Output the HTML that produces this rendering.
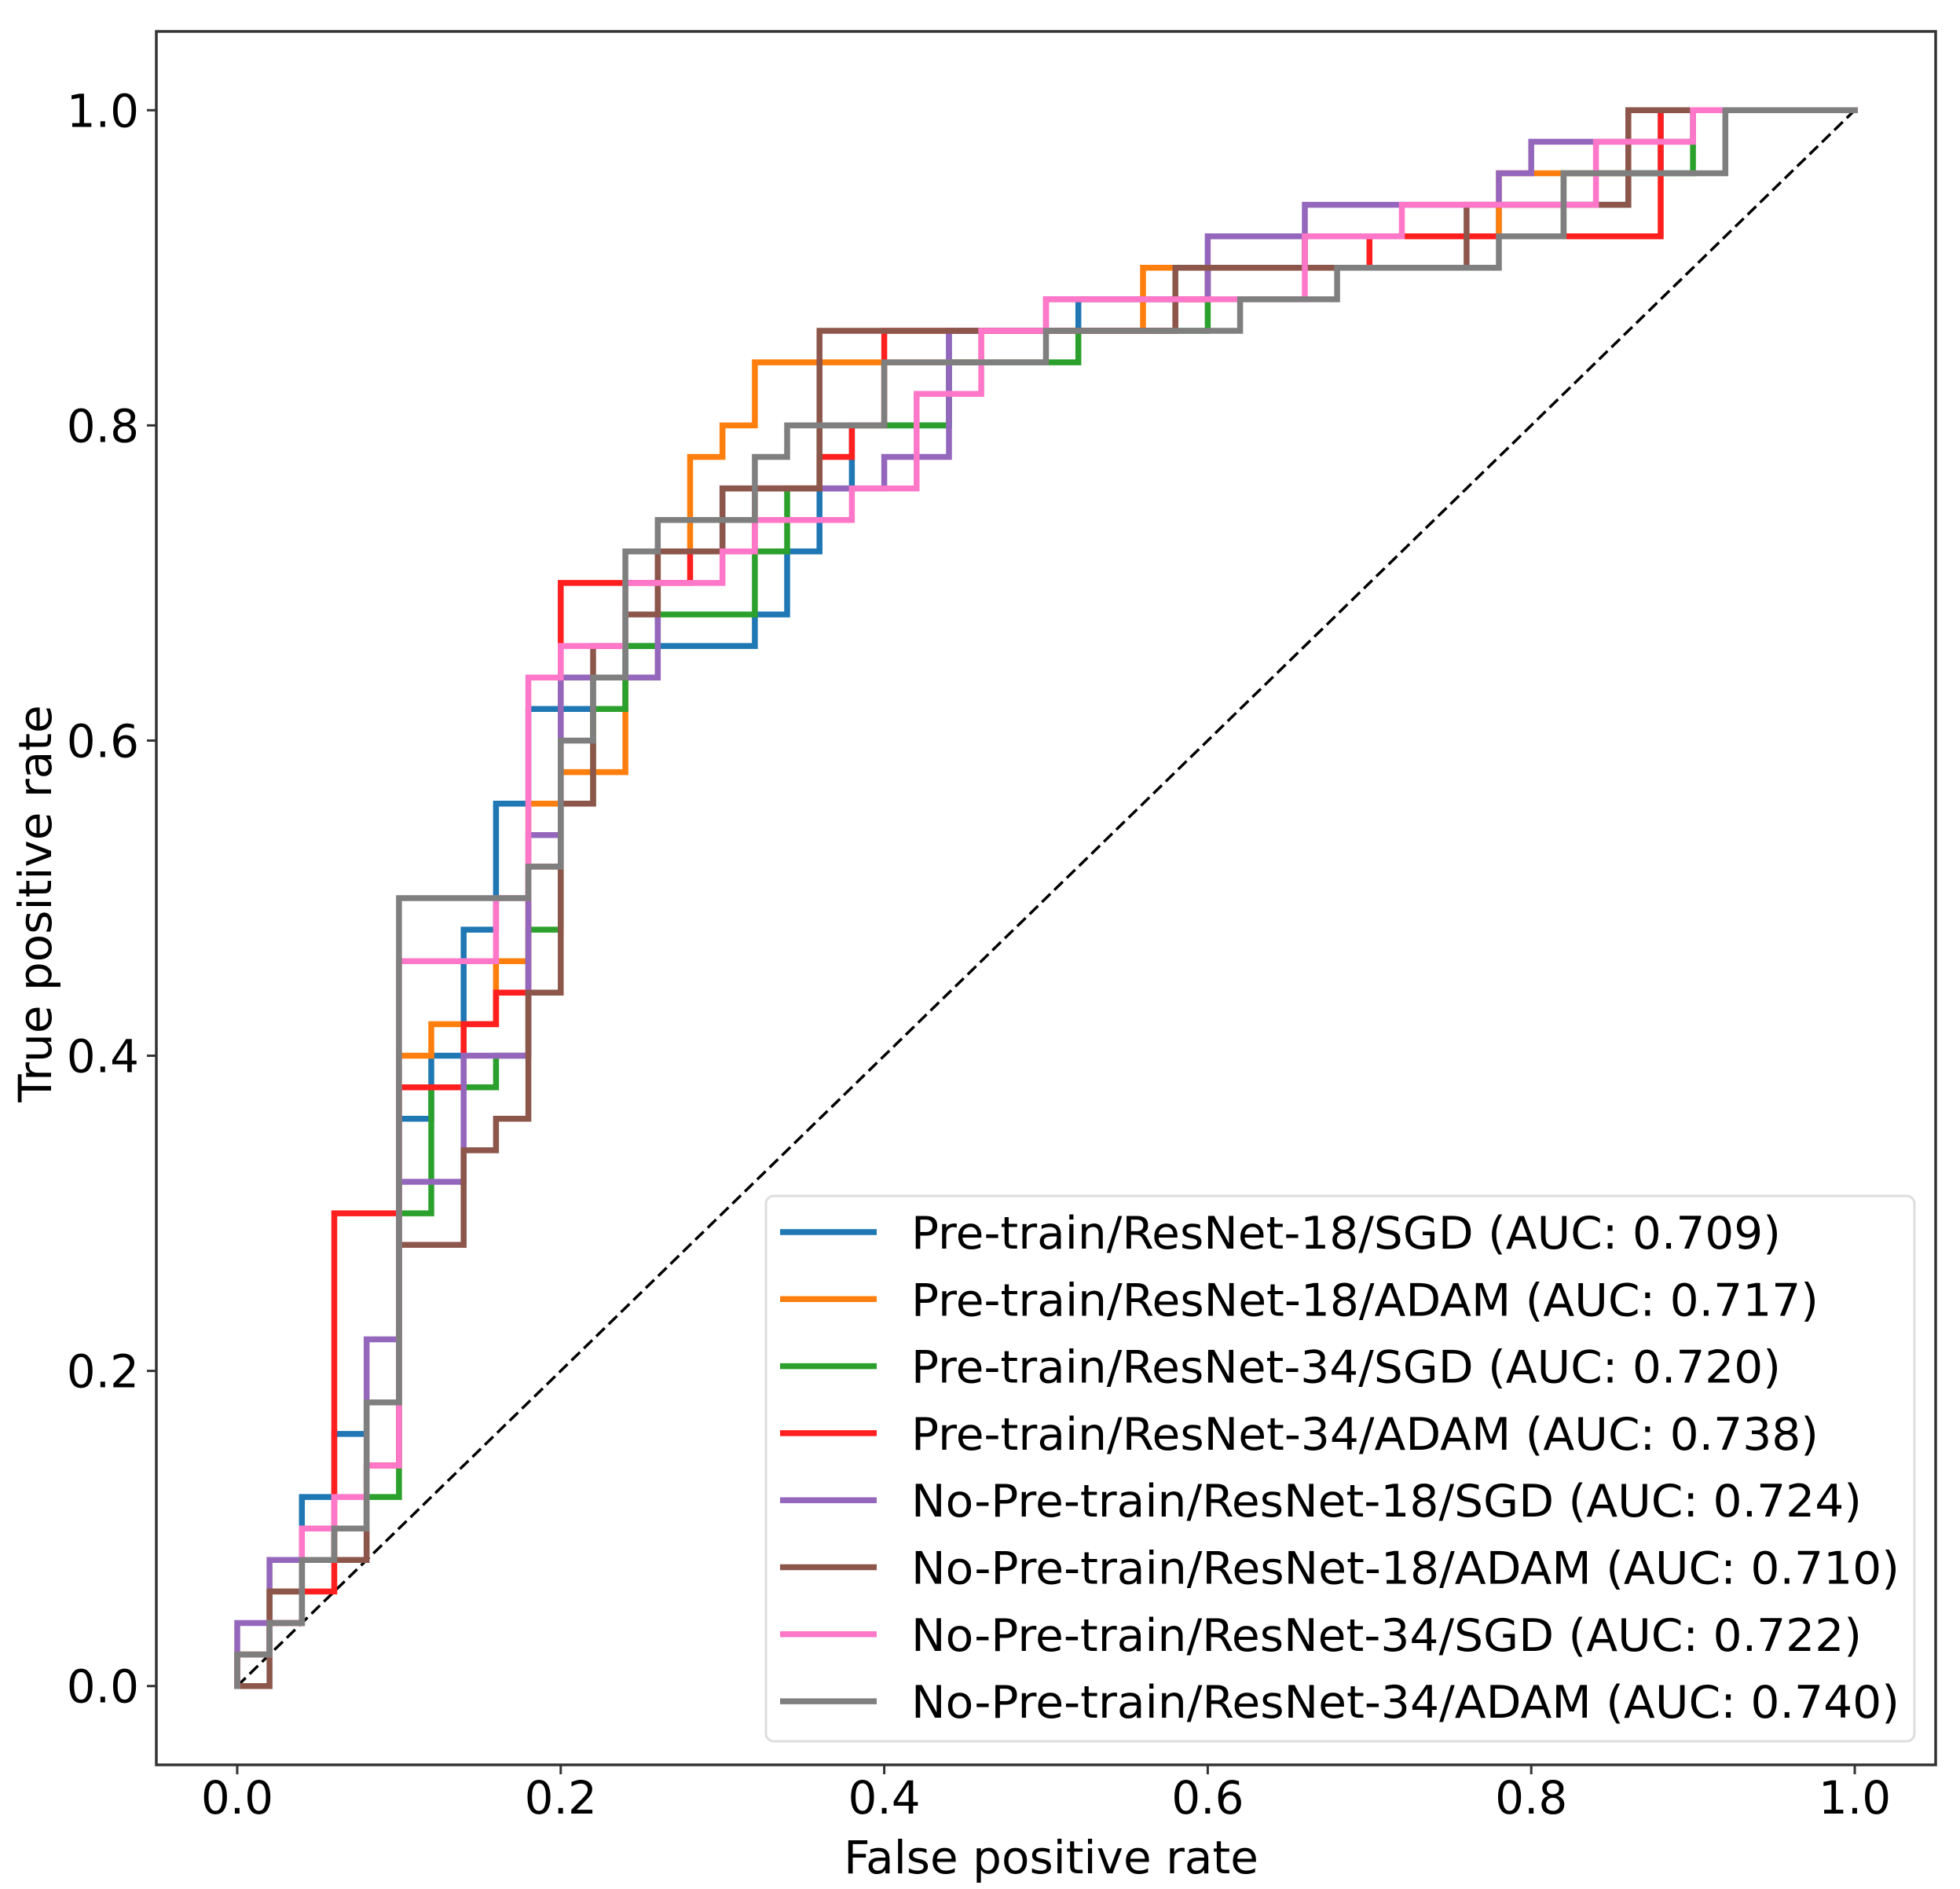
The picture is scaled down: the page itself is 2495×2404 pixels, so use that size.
<!DOCTYPE html>
<html><head><meta charset="utf-8"><style>
html,body{margin:0;padding:0;background:#fff;}
svg{display:block;font-family:"DejaVu Sans","Liberation Sans",sans-serif;}
</style></head>
<body>
<svg id="chart" width="2495" height="2404" viewBox="0 0 2495 2404" xmlns="http://www.w3.org/2000/svg">
<rect x="0" y="0" width="2495" height="2404" fill="#fff"/>
<g id="plot"></g>
<g id="axes"></g>
<g id="legend"></g>
</svg>
<script>
const xTicks = [0.0, 0.2, 0.4, 0.6, 0.8, 1.0];
const yTicks = [0.0, 0.2, 0.4, 0.6, 0.8, 1.0];
const tickLabels = ["0.0", "0.2", "0.4", "0.6", "0.8", "1.0"];
const seriesNames = ["Pre-train/ResNet-18/SGD (AUC: 0.709)","Pre-train/ResNet-18/ADAM (AUC: 0.717)","Pre-train/ResNet-34/SGD (AUC: 0.720)","Pre-train/ResNet-34/ADAM (AUC: 0.738)","No-Pre-train/ResNet-18/SGD (AUC: 0.724)","No-Pre-train/ResNet-18/ADAM (AUC: 0.710)","No-Pre-train/ResNet-34/SGD (AUC: 0.722)","No-Pre-train/ResNet-34/ADAM (AUC: 0.740)"];
const seriesColors = ["#1f77b4","#ff7f0e","#2ca02c","#ff1f1f","#9467bd","#8c564b","#ff77c8","#7f7f7f"];

const fpr0 = [0,0,0.02,0.02,0.04,0.04,0.06,0.06,0.08,0.08,0.10,0.10,0.12,0.12,0.14,0.14,0.16,0.16,0.18,0.18,0.24,0.24,0.32,0.32,0.34,0.34,0.36,0.36,0.38,0.38,0.44,0.44,0.52,0.52,0.60,0.60,0.66,0.66,0.78,0.78,0.86,0.86,0.88,0.88,1];
const tpr0 = [0,0.02,0.02,0.04,0.04,0.12,0.12,0.16,0.16,0.18,0.18,0.36,0.36,0.40,0.40,0.48,0.48,0.56,0.56,0.62,0.62,0.66,0.66,0.68,0.68,0.72,0.72,0.76,0.76,0.80,0.80,0.86,0.86,0.88,0.88,0.90,0.90,0.92,0.92,0.94,0.94,0.96,0.96,1.0,1.0];
const fpr1 = [0,0,0.02,0.02,0.04,0.04,0.06,0.06,0.08,0.08,0.10,0.10,0.12,0.12,0.16,0.16,0.18,0.18,0.20,0.20,0.24,0.24,0.26,0.26,0.28,0.28,0.30,0.30,0.32,0.32,0.46,0.46,0.56,0.56,0.66,0.66,0.78,0.78,0.86,0.86,1];
const tpr1 = [0,0.02,0.02,0.06,0.06,0.08,0.08,0.10,0.10,0.14,0.14,0.40,0.40,0.42,0.42,0.46,0.46,0.56,0.56,0.58,0.58,0.64,0.64,0.72,0.72,0.78,0.78,0.80,0.80,0.84,0.84,0.86,0.86,0.90,0.90,0.92,0.92,0.96,0.96,1.0,1.0];
const fpr2 = [0,0,0.02,0.02,0.04,0.04,0.06,0.06,0.08,0.08,0.10,0.10,0.12,0.12,0.16,0.16,0.18,0.18,0.20,0.20,0.22,0.22,0.24,0.24,0.26,0.26,0.32,0.32,0.34,0.34,0.36,0.36,0.40,0.40,0.44,0.44,0.52,0.52,0.60,0.60,0.66,0.66,0.82,0.82,0.90,0.90,1];
const tpr2 = [0,0.02,0.02,0.04,0.04,0.08,0.08,0.10,0.10,0.12,0.12,0.30,0.30,0.38,0.38,0.40,0.40,0.48,0.48,0.56,0.56,0.62,0.62,0.66,0.66,0.68,0.68,0.72,0.72,0.76,0.76,0.80,0.80,0.80,0.80,0.84,0.84,0.86,0.86,0.90,0.90,0.92,0.92,0.96,0.96,1.0,1.0];
const fpr3 = [0,0,0.02,0.02,0.04,0.04,0.06,0.06,0.10,0.10,0.14,0.14,0.16,0.16,0.18,0.18,0.20,0.20,0.24,0.24,0.28,0.28,0.32,0.32,0.36,0.36,0.38,0.38,0.40,0.40,0.58,0.58,0.60,0.60,0.70,0.70,0.88,0.88,1];
const tpr3 = [0,0.02,0.02,0.04,0.04,0.06,0.06,0.30,0.30,0.38,0.38,0.42,0.42,0.44,0.44,0.52,0.52,0.70,0.70,0.70,0.70,0.72,0.72,0.76,0.76,0.78,0.78,0.80,0.80,0.86,0.86,0.88,0.88,0.90,0.90,0.92,0.92,1.0,1.0];
const fpr4 = [0,0,0.02,0.02,0.08,0.08,0.10,0.10,0.14,0.14,0.18,0.18,0.20,0.20,0.26,0.26,0.30,0.30,0.36,0.36,0.40,0.40,0.44,0.44,0.50,0.50,0.52,0.52,0.60,0.60,0.66,0.66,0.78,0.78,0.80,0.80,0.90,0.90,1];
const tpr4 = [0,0.04,0.04,0.08,0.08,0.22,0.22,0.32,0.32,0.40,0.40,0.54,0.54,0.64,0.64,0.72,0.72,0.76,0.76,0.76,0.76,0.78,0.78,0.86,0.86,0.88,0.88,0.88,0.88,0.92,0.92,0.94,0.94,0.96,0.96,0.98,0.98,1.0,1.0];
const fpr5 = [0,0.02,0.02,0.04,0.04,0.08,0.08,0.10,0.10,0.14,0.14,0.16,0.16,0.18,0.18,0.20,0.20,0.22,0.22,0.24,0.24,0.26,0.26,0.30,0.30,0.36,0.36,0.58,0.58,0.76,0.76,0.86,0.86,1];
const tpr5 = [0,0,0.06,0.06,0.08,0.08,0.14,0.14,0.28,0.28,0.34,0.34,0.36,0.36,0.44,0.44,0.56,0.56,0.66,0.66,0.68,0.68,0.72,0.72,0.76,0.76,0.86,0.86,0.90,0.90,0.94,0.94,1.0,1.0];
const fpr6 = [0,0,0.02,0.02,0.04,0.04,0.06,0.06,0.08,0.08,0.10,0.10,0.16,0.16,0.18,0.18,0.20,0.20,0.24,0.24,0.30,0.30,0.32,0.32,0.38,0.38,0.42,0.42,0.46,0.46,0.50,0.50,0.66,0.66,0.72,0.72,0.84,0.84,0.90,0.90,1];
const tpr6 = [0,0.02,0.02,0.04,0.04,0.10,0.10,0.12,0.12,0.14,0.14,0.46,0.46,0.50,0.50,0.64,0.64,0.66,0.66,0.70,0.70,0.72,0.72,0.74,0.74,0.76,0.76,0.82,0.82,0.86,0.86,0.88,0.88,0.92,0.92,0.94,0.94,0.98,0.98,1.0,1.0];
const fpr7 = [0,0,0.02,0.02,0.04,0.04,0.06,0.06,0.08,0.08,0.10,0.10,0.18,0.18,0.20,0.20,0.22,0.22,0.24,0.24,0.26,0.26,0.32,0.32,0.34,0.34,0.40,0.40,0.50,0.50,0.62,0.62,0.68,0.68,0.78,0.78,0.82,0.82,0.92,0.92,1];
const tpr7 = [0,0.02,0.02,0.04,0.04,0.08,0.08,0.10,0.10,0.18,0.18,0.50,0.50,0.52,0.52,0.60,0.60,0.64,0.64,0.72,0.72,0.74,0.74,0.78,0.78,0.80,0.80,0.84,0.84,0.86,0.86,0.88,0.88,0.90,0.90,0.92,0.92,0.96,0.96,1.0,1.0];
const fprSeries = [fpr0,fpr1,fpr2,fpr3,fpr4,fpr5,fpr6,fpr7];
const tprSeries = [tpr0,tpr1,tpr2,tpr3,tpr4,tpr5,tpr6,tpr7];

const NS = "http://www.w3.org/2000/svg";
const L = 199, R = 2464, T = 40, B = 2246;
const xScale = v => L + (v + 0.05) / 1.1 * (R - L);
const yScale = v => B - (v + 0.05) / 1.1 * (B - T);
function mk(tag, attrs, parent){ const e = document.createElementNS(NS, tag); for (const k in attrs) e.setAttribute(k, attrs[k]); parent.appendChild(e); return e; }

const plot = document.getElementById('plot');
const axes = document.getElementById('axes');
const legend = document.getElementById('legend');

const diag = mk('line', {x1:xScale(0), y1:yScale(0), x2:xScale(1), y2:yScale(1), stroke:'#000', 'stroke-width':3.5, 'stroke-dasharray':'15 7'}, plot);



for (let s = 0; s < fprSeries.length; s++) {
  const f = fprSeries[s], t = tprSeries[s];
  let d = '';
  for (let i = 0; i < f.length; i++) d += (i ? 'L' : 'M') + xScale(f[i]).toFixed(1) + ' ' + yScale(t[i]).toFixed(1);
  const p = mk('path', {d:d, fill:'none', stroke:seriesColors[s], 'stroke-width':7.5, 'stroke-linejoin':'miter', 'stroke-linecap':'square'}, plot);
  
  
}

const frame = mk('rect', {x:L, y:T, width:R-L, height:B-T, fill:'none', stroke:'#333', 'stroke-width':3.5}, axes);



for (let i = 0; i < xTicks.length; i++) {
  const x = xScale(xTicks[i]);
  mk('line', {x1:x, y1:B, x2:x, y2:B+12, stroke:'#333', 'stroke-width':3}, axes);
  const tx = mk('text', {x:x, y:B+62, 'font-size':58, 'text-anchor':'middle', fill:'#000'}, axes);
  tx.textContent = tickLabels[i];
  
  
}
for (let i = 0; i < yTicks.length; i++) {
  const y = yScale(yTicks[i]);
  mk('line', {x1:L-12, y1:y, x2:L, y2:y, stroke:'#333', 'stroke-width':3}, axes);
  const ty = mk('text', {x:L-22, y:y+21, 'font-size':58, 'text-anchor':'end', fill:'#000'}, axes);
  ty.textContent = tickLabels[i];
  
  
}
const xl = mk('text', {x:1338, y:2384, 'font-size':58, 'text-anchor':'middle', fill:'#000'}, axes);
xl.textContent = 'False positive rate';


const yl = mk('text', {x:0, y:0, 'font-size':58, 'text-anchor':'middle', fill:'#000', transform:'translate(65,1150) rotate(-90)'}, axes);
yl.textContent = 'True positive rate';



const box = mk('rect', {x:975, y:1522, width:1462, height:694, rx:10, fill:'#fff', 'fill-opacity':0.85, stroke:'#ddd', 'stroke-width':3}, legend);


const textEnds = [1420,1450,1420,1450,1484,1514,1484,1514];
for (let s = 0; s < seriesNames.length; s++) {
  const y = 1568 + s * 85.3;
  const g = mk('g', {}, legend);
  
  
  mk('line', {x1:993, y1:y, x2:1116, y2:y, stroke:seriesColors[s], 'stroke-width':7.5}, g);
  const t = mk('text', {x:1160, y:y+21, 'font-size':57, fill:'#000', textLength:((textEnds[s]-728)*1.6).toFixed(0), lengthAdjust:'spacingAndGlyphs'}, g);
  t.textContent = seriesNames[s];
}
</script>
</body></html>
